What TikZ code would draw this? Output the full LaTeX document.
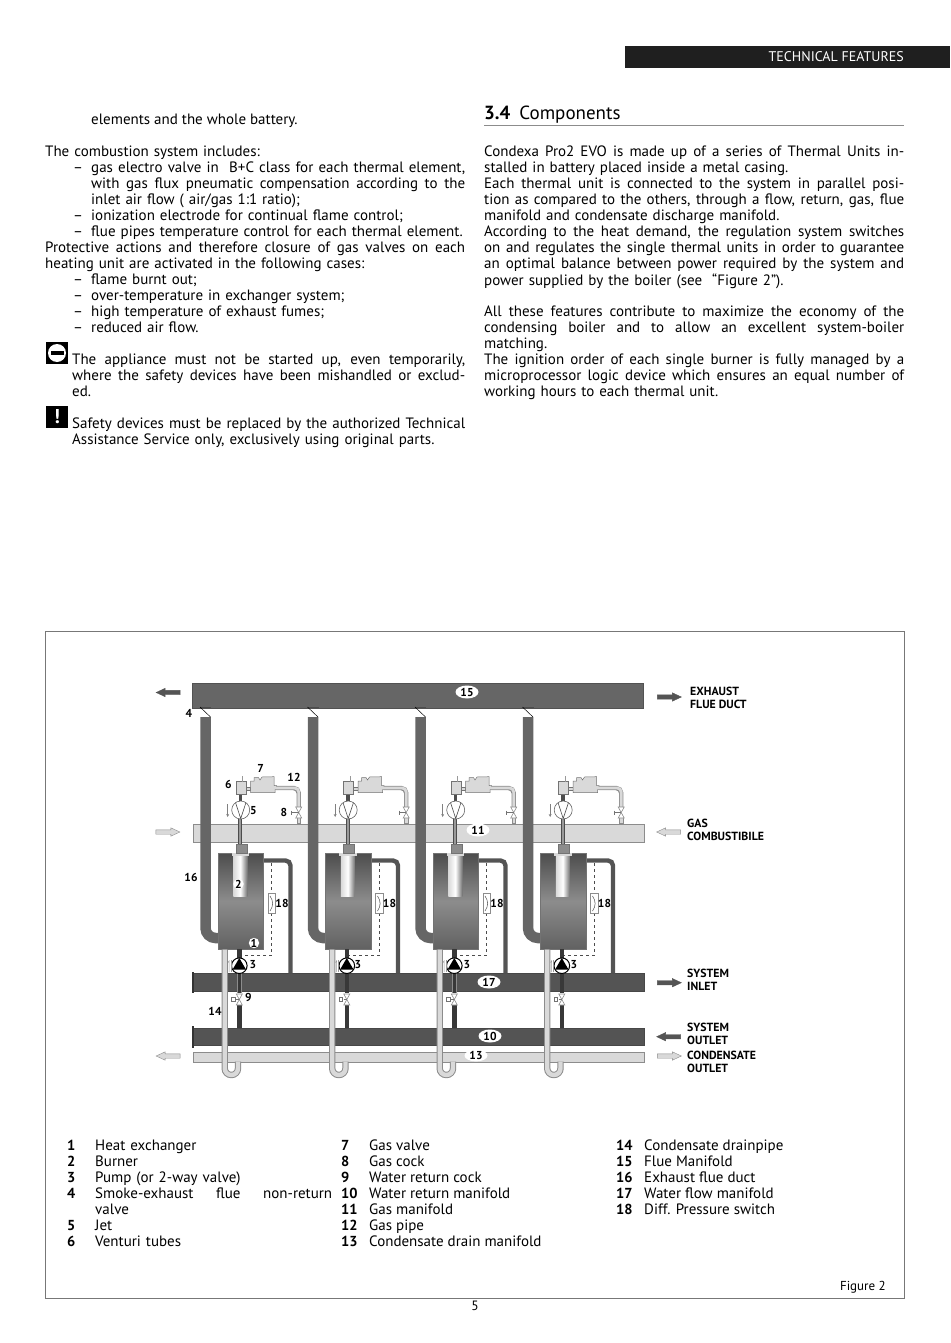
\documentclass[tikz,border=0pt]{standalone}
\usepackage{fontspec}
\setmainfont{PT Sans}
\usetikzlibrary{shapes.arrows, shapes.geometric, arrows.meta, positioning}
\definecolor{ductgrey}{HTML}{666666}
\definecolor{watergrey}{HTML}{545454}
\definecolor{gasgrey}{HTML}{D9D9D9}
\definecolor{edgegrey}{HTML}{8C8C8C}
\definecolor{framegrey}{HTML}{777777}
\newdimen\bodywd
\newcommand{\fullln}[1]{\makebox[\bodywd][s]{\spaceskip=0pt\xspaceskip=0pt\strut #1}\\}
\newcommand{\plainln}[1]{\strut #1\\}
\newcommand{\dashln}[1]{\makebox[18pt][l]{–}\makebox[\dimexpr\bodywd-18pt\relax][s]{\spaceskip=0pt\xspaceskip=0pt\strut #1}\\}
\newcommand{\dashplain}[1]{\makebox[18pt][l]{–}\strut #1\\}
\newcommand{\contln}[1]{\hspace*{18pt}\makebox[\dimexpr\bodywd-18pt\relax][s]{\spaceskip=0pt\xspaceskip=0pt\strut #1}\\}
\newcommand{\contplain}[1]{\hspace*{18pt}\strut #1\\}
\begin{document}
\begin{tikzpicture}[
    x=1pt, y=-1pt,
    bodytext/.style={anchor=north west, inner sep=0pt, align=left, font=\fontsize{15}{16}\selectfont},
    bodywidth/.style={text width=#1, execute at begin node={\bodywd=#1\relax}},
    tag/.style={font=\fontsize{11.5}{13}\selectfont\bfseries, inner sep=0pt},
    sidetag/.style={anchor=north west, inner sep=0pt, align=left, font=\fontsize{11.8}{13.3}\selectfont\bfseries},
    oval/.style={ellipse, fill=white, inner sep=0pt, minimum width=23pt, minimum height=13pt, font=\fontsize{11.5}{12}\selectfont\bfseries},
    flowdark/.style={single arrow, fill=watergrey, draw=watergrey, inner xsep=0pt, inner ysep=2pt, minimum height=24pt, single arrow head extend=2pt, single arrow tip angle=50, single arrow head indent=0pt},
    flowlight/.style={single arrow, fill=gasgrey, draw=edgegrey, inner xsep=0pt, inner ysep=2pt, minimum height=24pt, single arrow head extend=2pt, single arrow tip angle=50, single arrow head indent=0pt},
    gasbar/.style={rectangle, anchor=north west, fill=gasgrey, draw=edgegrey, inner sep=0pt},
    waterbar/.style={rectangle, anchor=north west, fill=watergrey, draw=watergrey!85!black, inner sep=0pt},
    bowtie/.style={fill=white, draw=edgegrey, line width=0.6pt}
]
\useasboundingbox (0,0) rectangle (950,1343);

% Page header
\node[rectangle, fill=black!88, anchor=north west, minimum width=325pt, minimum height=22pt, inner sep=0pt] (banner) at (625,46) {};
\node[anchor=east, text=white, inner sep=0pt, font=\fontsize{14}{16}\selectfont] (bannertext) at (904,57) {TECHNICAL FEATURES};

% Left column
\node[bodytext] (lefta) at (91,113) {\plainln{elements and the whole battery.}};
\node[bodytext, bodywidth=420pt] (leftb) at (45,145) {\plainln{The combustion system includes:}};
\node[bodytext, bodywidth=392pt] (leftc) at (73,161) {%
\dashln{gas electro valve in \ B+C class for each thermal element,}
\contln{with gas flux pneumatic compensation according to the}
\contplain{inlet air flow ( air/gas 1:1 ratio);}
\dashplain{ionization electrode for continual flame control;}
\dashplain{flue pipes temperature control for each thermal element.}};
\node[bodytext, bodywidth=420pt] (leftd) at (45,241) {%
\fullln{Protective actions and therefore closure of gas valves on each}
\plainln{heating unit are activated in the following cases:}};
\node[bodytext, bodywidth=392pt] (lefte) at (73,273) {%
\dashplain{flame burnt out;}
\dashplain{over-temperature in exchanger system;}
\dashplain{high temperature of exhaust fumes;}
\dashplain{reduced air flow.}};

% Warnings
\node[rectangle, fill=black, minimum size=22pt, inner sep=0pt] (stopicon) at (57,353) {};
\node[circle, fill=white, minimum size=18pt, inner sep=0pt] (stopdisc) at (stopicon.center) {};
\node[rectangle, fill=black, minimum width=13pt, minimum height=4pt, inner sep=0pt] (stopbar) at (stopicon.center) {};
\node[bodytext, bodywidth=393pt] (warna) at (72,353) {%
\fullln{The appliance must not be started up, even temporarily,}
\fullln{where the safety devices have been mishandled or exclud-}
\plainln{ed.}};
\node[rectangle, fill=black, text=white, minimum size=22pt, inner sep=0pt, font=\fontsize{20}{20}\selectfont\bfseries] (warnicon) at (57,417) {!};
\node[bodytext, bodywidth=393pt] (warnb) at (72,417) {%
\fullln{Safety devices must be replaced by the authorized Technical}
\plainln{Assistance Service only, exclusively using original parts.}};

% Right column
\node[anchor=base west, inner sep=0pt, font=\fontsize{19}{20}\selectfont] (sectitle) at (484,119.5) {\textbf{3.4}\hspace{9pt}Components};
\draw[edgegrey, line width=0.8pt] (484,125) -- (904,125);
\node[bodytext, bodywidth=420pt] (righta) at (484,145) {%
\fullln{Condexa Pro2 EVO is made up of a series of Thermal Units in-}
\plainln{stalled in battery placed inside a metal casing.}
\fullln{Each thermal unit is connected to the system in parallel posi-}
\fullln{tion as compared to the others, through a flow, return, gas, flue}
\plainln{manifold and condensate discharge manifold.}
\fullln{According to the heat demand, the regulation system switches}
\fullln{on and regulates the single thermal units in order to guarantee}
\fullln{an optimal balance between power required by the system and}
\plainln{power supplied by the boiler (see \ ``Figure 2'').}};
\node[bodytext, bodywidth=420pt] (rightb) at (484,305) {%
\fullln{All these features contribute to maximize the economy of the}
\fullln{condensing boiler and to allow an excellent system-boiler}
\plainln{matching.}
\fullln{The ignition order of each single burner is fully managed by a}
\fullln{microprocessor logic device which ensures an equal number of}
\plainln{working hours to each thermal unit.}};

% Figure frame
\node[rectangle, draw=framegrey, line width=0.8pt, anchor=north west, minimum width=859pt, minimum height=667pt, inner sep=0pt] (frame) at (45,631) {};
\node[anchor=east, inner sep=0pt, font=\fontsize{13}{16}\selectfont] (figlabel) at (886,1287) {Figure 2};
\node[inner sep=0pt, font=\fontsize{13.5}{16}\selectfont] (pagenum) at (475,1306) {5};

% Manifolds
\node[rectangle, anchor=north west, fill=ductgrey, draw=ductgrey!80!black, minimum width=451pt, minimum height=24.5pt, inner sep=0pt] (flueman) at (192,683) {};
\node[gasbar, minimum width=451pt, minimum height=18pt] (gasman) at (193,823.5) {};
\node[waterbar, minimum width=451pt, minimum height=17.5pt] (flowman) at (193,973.3) {};
\node[waterbar, minimum width=451pt, minimum height=17.5pt] (returnman) at (193,1027.7) {};
\node[gasbar, minimum width=451pt, minimum height=10pt] (drainman) at (193,1051.7) {};
\fill[black!80] (191.5,972.3) rectangle (193.5,993.3);
\fill[black!80] (191.5,1025.7) rectangle (193.5,1047.5);

% Thermal units
\foreach \dx/\tx in {0/253, 107.5/250.5, 215/252, 322.5/251.5} {
\begin{scope}[xshift=\dx pt]
    % flue duct and flap
    \draw[ductgrey, line width=10.5pt, rounded corners=10pt] (205.5,717) -- (205.5,938) -- (219,938);
    \draw[black!70, line width=1.5pt] (200,707.5) -- (211,707.5);
    \draw[black, line width=0.5pt] (200,707) -- (210.5,717);
    % return pipe and dashed line
    \draw[watergrey, line width=4.4pt, rounded corners=5pt] (262,860.5) -- (290.5,860.5) -- (290.5,973.5);
    \draw[black!70, dashed, line width=0.6pt] (271.7,863) -- (271.7,894);
    \draw[black!70, dashed, line width=0.6pt] (271.7,913) -- (271.7,955.3) -- (241,955.3);
    % exchanger
    \draw[black!55, top color=black!70, bottom color=black!62, middle color=black!45] (218,853) rectangle (263.5,949.3);
    \fill[left color=black!15, right color=black!55, middle color=white] (233.3,855) rectangle (247.3,896);
    \fill[black!15] (231.7,853) rectangle (249,855.7);
    \draw[black!55, fill=black!45] (235.7,844) rectangle (246.7,853);
    % switch
    \draw[edgegrey, fill=white, line width=0.6pt] (268,893.7) rectangle (275.7,913.3);
    \draw[black!70, line width=0.5pt] (270,896) .. controls (273.5,901) and (273.5,906) .. (270,911);
    % gas line
    \draw[black!70, line width=3.6pt] (240.2,818) -- (240.2,844);
    \draw[black!40, line width=1.8pt] (240.2,818) -- (240.2,844);
    \draw[black!70, line width=3.6pt] (240.4,794) -- (240.4,802);
    \draw[black!55, fill=gasgrey, line width=0.5pt] (236,781.7) rectangle (246,794);
    \draw[black!40, line width=0.5pt] (242.5,776) -- (242.5,781.7);
    \draw[black!55, fill=gasgrey, line width=0.5pt] (246,787) rectangle (250.7,790);
    \draw[black!55, fill=gasgrey, line width=0.5pt] (250.7,792.7) -- (250.7,781) -- (254,781) -- (254,777.5) -- (258.5,777.5) -- (260,780) -- (262,777) -- (274,776.7) -- (274,785.5) -- (276.5,785.5) -- (276.5,789.5) -- (275,789.5) -- (275,792.7) -- cycle;
    \draw[edgegrey, line width=4.4pt, rounded corners=5pt] (276,788) -- (298.7,788) -- (298.7,808);
    \draw[gasgrey, line width=2.8pt, rounded corners=4pt] (275.5,788) -- (298.7,788) -- (298.7,808);
    \draw[edgegrey, fill=gasgrey, line width=0.5pt] (297,817) rectangle (300.5,823.5);
    \draw[bowtie] (295.7,807) -- (301.7,807) -- (295.7,818) -- (301.7,818) -- cycle;
    \draw[black!55, line width=0.6pt] (291.7,812.5) -- (298.7,812.5);
    \draw[black!55, line width=0.6pt] (291.7,810.5) -- (291.7,814.5);
    % jet
    \draw[black!60, fill=white, line width=0.6pt] (240.7,810) circle (9);
    \draw[black!70, line width=0.6pt] (235.5,802.5) -- (240.7,818.5) -- (246,802.5);
    \draw[black!50, line width=0.6pt, -{Stealth[length=3pt,width=3pt]}] (227.7,804) -- (227.7,817);
    % water pump and valve
    \draw[black!78, line width=4.2pt] (239.5,949) -- (239.5,958);
    \draw[black!45, line width=4.8pt] (239.5,973) -- (239.5,993);
    \draw[black!78, line width=3.6pt] (239.5,973) -- (239.5,993);
    \draw[black!78, line width=4.2pt] (239.5,1005) -- (239.5,1028);
    \draw[black, fill=white, line width=1pt] (239.3,965.7) circle (7.8);
    \fill[black] (239.3,958) -- (246,969.5) -- (232.6,969.5) -- cycle;
    \draw[black!40, line width=0.5pt] (229,972) -- (229,961) -- (228,962.5);
    \draw[black!40, line width=0.5pt] (231,972) -- (231,960);
    \draw[bowtie] (236.3,994) -- (242.3,994) -- (236.3,1005) -- (242.3,1005) -- cycle;
    \draw[black!55, line width=0.6pt] (236,999.2) -- (239.3,999.2);
    \draw[black!55, fill=white, line width=0.5pt] (231.7,997.5) rectangle (235,1001);
    % condensate pipe
    \draw[edgegrey, line width=6.4pt, rounded corners=6.6pt] (224.7,949.5) -- (224.7,1075) -- (238,1075) -- (238,1061.5);
    \draw[gasgrey, line width=4.4pt, rounded corners=6.6pt] (224.7,949.5) -- (224.7,1075) -- (238,1075) -- (238,1061.5);
    % labels repeated on each unit
    \node[tag] (switchtag\dx) at (282,903) {18};
    \node[tag] (pumptag\dx) at (\tx,965) {3};
\end{scope}
}

% Labels on the first unit
\node[tag] (tagfour) at (189,713) {4};
\node[tag] (tagseven) at (260.6,768) {7};
\node[tag] (tagsix) at (228.3,784) {6};
\node[tag] (tagtwelve) at (294,777) {12};
\node[tag] (tagfive) at (253.5,811) {5};
\node[tag] (tageight) at (284,812) {8};
\node[tag] (tagsixteen) at (191,877) {16};
\node[circle, fill=white, inner sep=0pt, minimum size=9pt, tag] (tagtwo) at (238.5,884) {2};
\node[circle, fill=white, inner sep=0pt, minimum size=9pt, tag] (tagone) at (254,943) {1};
\node[tag] (tagnine) at (248.5,997) {9};
\node[tag] (tagfourteen) at (215,1011) {14};

% Manifold numbers
\node[oval] (ovalflue) at (467,692) {15};
\node[oval] (ovalgas) at (478,830) {11};
\node[oval] (ovalflow) at (489,982) {17};
\node[oval] (ovalreturn) at (490,1036) {10};
\node[oval, minimum height=9pt] (ovaldrain) at (476,1055.5) {13};

% Flow arrows
\node[flowdark, shape border rotate=180] (fluewest) at (170.5,692.5) {};
\node[flowdark] (flueeast) at (667,697) {};
\node[flowlight] (gaswest) at (165.5,832) {};
\node[flowlight, shape border rotate=180] (gaseast) at (671,832) {};
\node[flowdark] (inleteast) at (667,982.7) {};
\node[flowdark, shape border rotate=180] (outleteast) at (671,1036.7) {};
\node[flowlight] (draineast) at (667,1056) {};
\node[flowlight, shape border rotate=180] (drainwest) at (170.5,1056) {};

% Side captions
\node[sidetag] (capflue) at (690,687) {EXHAUST\\FLUE DUCT};
\node[sidetag] (capgas) at (687,819) {GAS\\COMBUSTIBILE};
\node[sidetag] (capinlet) at (687,968.5) {SYSTEM\\INLET};
\node[sidetag] (capoutlet) at (687,1022.5) {SYSTEM\\OUTLET};
\node[sidetag] (capdrain) at (687,1051) {CONDENSATE\\OUTLET};

% Legend
\node[bodytext, font=\fontsize{14.5}{16}\selectfont\bfseries] (numsa) at (67,1139) {\plainln{1}\plainln{2}\plainln{3}\plainln{4}\plainln{}\plainln{5}\plainln{6}};
\node[bodytext, bodywidth=237pt] (itemsa) at (95,1139) {%
\plainln{Heat exchanger}
\plainln{Burner}
\plainln{Pump (or 2-way valve)}
\fullln{Smoke-exhaust flue non-return}
\plainln{valve}
\plainln{Jet}
\plainln{Venturi tubes}};
\node[bodytext, font=\fontsize{14.5}{16}\selectfont\bfseries] (numsb) at (341,1139) {\plainln{7}\plainln{8}\plainln{9}\plainln{10}\plainln{11}\plainln{12}\plainln{13}};
\node[bodytext] (itemsb) at (369,1139) {%
\plainln{Gas valve}
\plainln{Gas cock}
\plainln{Water return cock}
\plainln{Water return manifold}
\plainln{Gas manifold}
\plainln{Gas pipe}
\plainln{Condensate drain manifold}};
\node[bodytext, font=\fontsize{14.5}{16}\selectfont\bfseries] (numsc) at (616,1139) {\plainln{14}\plainln{15}\plainln{16}\plainln{17}\plainln{18}};
\node[bodytext] (itemsc) at (644,1139) {%
\plainln{Condensate drainpipe}
\plainln{Flue Manifold}
\plainln{Exhaust flue duct}
\plainln{Water flow manifold}
\plainln{Diff. Pressure switch}};
\end{tikzpicture}
\end{document}
